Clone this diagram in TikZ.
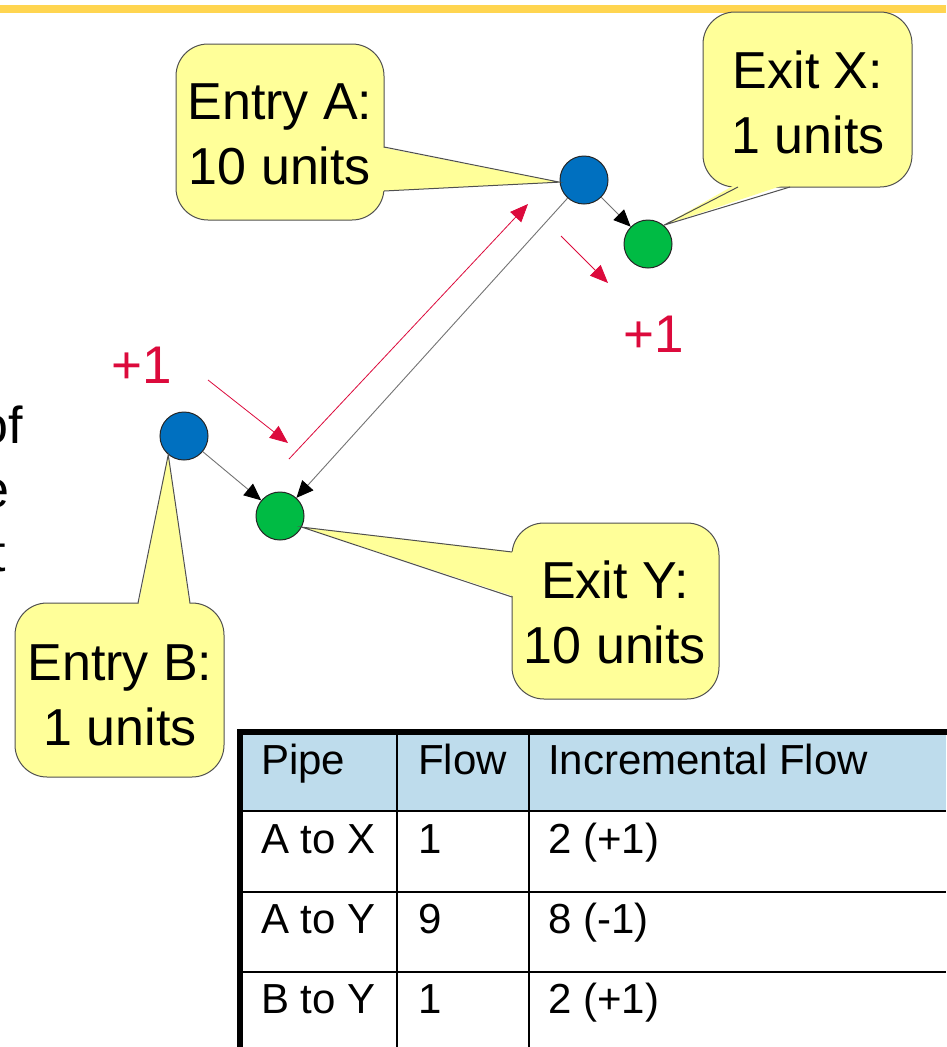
\documentclass[tikz,border=0pt]{standalone}
\usepackage{fontspec}
\setmainfont{Liberation Sans}
\usetikzlibrary{arrows.meta}
\definecolor{cfill}{RGB}{255,255,153}
\definecolor{cline}{RGB}{80,80,80}
\definecolor{nblue}{RGB}{0,112,192}
\definecolor{ngreen}{RGB}{0,187,68}
\definecolor{fred}{RGB}{220,10,60}
\definecolor{topbar}{RGB}{255,213,80}
\definecolor{hdr}{RGB}{190,220,236}
\begin{document}
\begin{tikzpicture}[x=1pt,y=-1pt,
  entry/.style={circle,draw=black!85,line width=1pt,fill=nblue,minimum size=48pt,inner sep=0pt},
  exitn/.style={entry,fill=ngreen},
  pipe/.style={draw=black!55,line width=0.9pt,-{Triangle[length=17pt,width=15pt,color=black]}},
  delta/.style={draw=fred,line width=0.8pt,-{Triangle[length=18pt,width=15pt]}},
  cbox/.style={fill=cfill,draw=cline,line width=1pt,rounded corners=32pt},
  cwedge/.style={fill=cfill},
  cedge/.style={draw=cline,line width=1pt,line join=miter},
  ctext/.style={font=\fontsize{52}{65}\selectfont,align=center,inner sep=0pt},
  plus/.style={font=\fontsize{53}{60}\selectfont,text=fred,inner sep=0pt,anchor=base west},
  body/.style={font=\fontsize{52}{63}\selectfont,inner sep=0pt,anchor=base east},
  cell/.style={font=\fontsize{42}{50}\selectfont,inner sep=0pt,anchor=base west},
  tline/.style={draw=black,line width=2pt},
]
\useasboundingbox (0,0) rectangle (946,1047);
\fill[white] (0,0) rectangle (946,1047);
\fill[topbar] (0,5) rectangle (946,13);

% nodes
\node[entry] (A) at (584,180) {};
\node[exitn] (X) at (648,244) {};
\node[entry] (B) at (184,436) {};
\node[exitn] (Y) at (280,516) {};

% pipes
\draw[pipe] (A) -- (X);
\draw[pipe] (A) -- (Y);
\draw[pipe] (B) -- (Y);

% incremental flow arrows
\coordinate (r1s) at (289,459); \coordinate (r1e) at (528,204);
\coordinate (r2s) at (208,380); \coordinate (r2e) at (288,443);
\coordinate (r3s) at (561,236); \coordinate (r3e) at (608,283);
\draw[delta] (r1s) -- (r1e);
\draw[delta] (r2s) -- (r2e);
\draw[delta] (r3s) -- (r3e);

% callout Entry A
\draw[cbox] (176,44) rectangle (384,220);
\fill[cwedge] (380,147) -- (A.185) -- (380,191) -- cycle;
\draw[cedge] (384,147) -- (A.185) -- (384,191);
\node[ctext] (ta) at (280,134) {Entry A:\\10 units};

% callout Exit X
\draw[cbox] (703,12) rectangle (912,187);
\fill[cwedge] (738,183) -- (X.50) -- (790,183) -- cycle;
\draw[cedge] (738,187) -- (X.50) -- (790,187);
\node[ctext] (tx) at (808,102) {Exit X:\\1 units};

% callout Exit Y
\draw[cbox] (512,523) rectangle (719,699);
\fill[cwedge] (516,552) -- (Y.-27) -- (516,597) -- cycle;
\draw[cedge] (512,552) -- (Y.-27) -- (512,597);
\node[ctext] (ty) at (615,612) {Exit Y:\\10 units};

% callout Entry B
\draw[cbox] (15,603) rectangle (224,777);
\fill[cwedge] (138,607) -- (B.-130) -- (190,607) -- cycle;
\draw[cedge] (138,603) -- (B.-130) -- (190,603);
\node[ctext] (tb) at (120,695) {Entry B:\\1 units};

% +1 labels
\node[plus] (p1) at (111,383) {+1};
\node[plus] (p2) at (623,352) {+1};

% cut-off body text at left
\node[body] (l1) at (23,443) {of};
\node[body] (l2) at (10,507) {e};
\node[body] (l3) at (6,571) {t};

% table
\fill[hdr] (240,732) rectangle (946,811);
\draw[tline] (240,811) -- (946,811);
\draw[tline] (240,892) -- (946,892);
\draw[tline] (240,972) -- (946,972);
\draw[tline] (397,732) -- (397,1047);
\draw[tline] (529,732) -- (529,1047);
\draw[line width=5.5pt,line join=miter] (240,1052) -- (240,732) -- (950,732);

\node[cell] (h1) at (261,774) {Pipe};
\node[cell] (h2) at (418,774) {Flow};
\node[cell] (h3) at (548,774) {Incremental Flow};
\node[cell] (c11) at (261,853) {A to X};
\node[cell] (c12) at (418,853) {1};
\node[cell] (c13) at (548,853) {2 (+1)};
\node[cell] (c21) at (261,933) {A to Y};
\node[cell] (c22) at (418,933) {9};
\node[cell] (c23) at (548,933) {8 (-1)};
\node[cell] (c31) at (261,1013) {B to Y};
\node[cell] (c32) at (418,1013) {1};
\node[cell] (c33) at (548,1013) {2 (+1)};
\end{tikzpicture}
\end{document}
